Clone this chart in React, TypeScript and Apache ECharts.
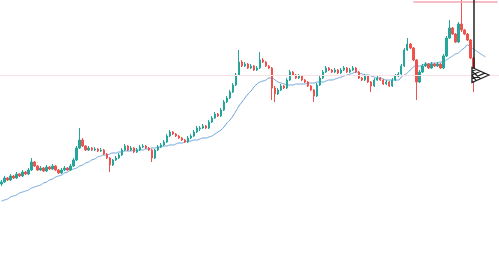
import React, { useEffect, useRef } from "react";
import * as echarts from "echarts";

// [open, close, low, high]
const ohlc: number[][] = [
  [82, 84, 80, 86], [84, 88, 83, 90], [88, 86, 85, 89], [86, 90, 85, 92], [90, 88, 87, 91],
  [88, 92, 87, 94], [92, 90, 89, 93], [90, 94, 89, 96], [94, 92, 91, 95], [92, 96, 91, 98],
  [96, 104, 95, 108], [104, 100, 99, 105], [100, 96, 95, 101], [96, 98, 95, 100], [98, 95, 94, 99],
  [95, 99, 94, 101], [99, 97, 96, 100], [97, 100, 96, 102], [100, 96, 95, 101], [96, 93, 92, 97],
  [93, 96, 92, 98], [96, 98, 95, 100], [98, 96, 95, 99], [96, 100, 95, 102], [100, 106, 99, 108],
  [106, 118, 105, 120], [118, 126, 117, 138], [126, 120, 119, 128], [120, 116, 115, 121], [116, 118, 115, 120],
  [118, 116, 115, 119], [116, 117, 115, 119], [117, 115, 114, 118], [115, 116, 114, 118], [116, 112, 111, 117],
  [112, 108, 107, 113], [108, 101, 94, 109], [101, 106, 100, 107], [106, 108, 105, 110], [108, 111, 107, 113],
  [111, 116, 110, 118], [116, 120, 115, 122], [120, 116, 115, 121], [116, 118, 115, 120], [118, 114, 113, 119],
  [114, 116, 113, 118], [116, 119, 115, 121], [119, 120, 118, 122], [120, 118, 117, 121], [118, 116, 115, 119],
  [116, 108, 104, 117], [108, 116, 107, 117], [116, 119, 115, 121], [119, 121, 118, 123], [121, 124, 120, 126],
  [124, 130, 123, 132], [130, 134, 129, 136], [134, 132, 131, 135], [132, 130, 129, 133], [130, 128, 127, 131],
  [128, 126, 125, 129], [126, 124, 123, 127], [124, 128, 123, 130], [128, 130, 127, 132], [130, 134, 129, 136],
  [134, 138, 133, 140], [137, 138, 135, 140], [138, 140, 137, 142], [140, 138, 137, 141], [138, 144, 137, 146],
  [144, 148, 143, 150], [148, 152, 147, 154], [152, 150, 149, 153], [150, 156, 149, 158], [156, 164, 155, 166],
  [164, 168, 163, 170], [168, 174, 167, 176], [174, 181, 173, 183], [181, 191, 180, 193], [191, 204, 190, 216],
  [204, 200, 199, 206], [200, 202, 199, 204], [202, 198, 197, 203], [198, 200, 197, 202], [200, 196, 195, 201],
  [196, 198, 195, 200], [198, 206, 197, 214], [206, 204, 203, 208], [204, 200, 199, 205], [200, 198, 197, 201],
  [198, 178, 166, 199], [178, 172, 164, 180], [172, 176, 171, 178], [176, 180, 175, 182], [180, 178, 177, 181],
  [178, 186, 177, 188], [186, 194, 185, 196], [194, 191, 190, 195], [191, 188, 187, 192], [188, 190, 187, 192],
  [190, 186, 185, 191], [186, 184, 183, 187], [184, 180, 179, 185], [180, 176, 175, 181], [176, 170, 164, 177],
  [170, 181, 169, 183], [181, 188, 180, 190], [188, 194, 187, 196], [194, 198, 193, 200], [198, 196, 195, 199],
  [196, 194, 193, 197], [194, 196, 193, 198], [196, 193, 192, 197], [193, 196, 192, 198], [196, 198, 195, 200],
  [198, 194, 193, 199], [194, 196, 193, 198], [196, 198, 195, 200], [198, 194, 193, 199], [194, 188, 187, 195],
  [188, 186, 185, 189], [186, 190, 185, 192], [190, 184, 183, 191], [184, 180, 174, 185], [180, 186, 179, 188],
  [186, 188, 185, 190], [188, 186, 185, 189], [186, 182, 181, 187], [182, 184, 181, 186], [184, 180, 179, 185],
  [180, 186, 179, 188], [186, 190, 185, 192], [190, 192, 189, 194], [192, 200, 191, 202], [200, 216, 199, 218],
  [216, 222, 215, 228], [222, 218, 217, 223], [218, 206, 205, 219], [206, 184, 166, 207], [184, 194, 183, 196],
  [194, 200, 193, 202], [200, 202, 199, 204], [202, 198, 197, 203], [198, 202, 197, 204], [202, 200, 199, 203],
  [200, 202, 199, 204], [202, 198, 197, 203], [198, 210, 197, 212], [210, 228, 209, 230], [228, 238, 227, 246],
  [238, 232, 231, 239], [232, 224, 223, 233], [224, 242, 223, 244], [242, 236, 234, 266], [236, 232, 231, 237],
  [232, 226, 225, 233], [226, 208, 207, 227], [208, 184, 174, 209],
];

const maValues: number[] = [
  65, 66, 67, 69, 70, 71, 73, 74, 75, 76, 78, 79, 80, 81, 83, 84, 86, 87, 89, 90,
  91, 93, 94, 96, 97, 98, 100, 101, 103, 104, 106, 107, 109, 110, 111, 111, 112, 113, 113, 114,
  114, 115, 115, 115, 116, 116, 116, 116, 117, 117, 118, 118, 119, 119, 120, 120, 121, 121, 122, 123,
  123, 124, 125, 125, 126, 126, 127, 128, 128, 129, 130, 132, 134, 136, 139, 143, 146, 150, 155, 160,
  164, 168, 172, 175, 179, 182, 184, 185, 186, 188, 188, 186, 184, 183, 182, 181, 181, 181, 182, 182,
  182, 182, 183, 183, 183, 184, 184, 184, 185, 186, 186, 187, 188, 189, 190, 191, 192, 193, 194, 193,
  192, 191, 191, 190, 189, 188, 188, 187, 186, 186, 186, 186, 186, 189, 191, 193, 196, 199, 200, 200,
  201, 202, 202, 203, 203, 203, 204, 204, 206, 208, 210, 212, 213, 216, 218, 221, 219, 217, 215, 213,
  211, 209,
];

const categoryCount = 166;
const categories: string[] = Array.from({ length: categoryCount }, (_, i) => String(i + 1));

const levelValue = 191;
const topLevelValue = 264;
const topLevelStart = 137;
const lastIndex = ohlc.length - 1;
const verticalFrom = 196;
const verticalTo = 266;

export default function App() {
  const ref = useRef<HTMLDivElement>(null);
  useEffect(() => {
    if (!ref.current) return;
    const chart = echarts.init(ref.current, undefined, { renderer: "svg" });
    chart.setOption({
      animation: false,
      backgroundColor: "#ffffff",
      grid: { left: 0, right: 0, top: 0, bottom: 0 },
      xAxis: {
        type: "category",
        data: categories,
        show: false,
        boundaryGap: true,
      },
      yAxis: {
        type: "value",
        min: 0,
        max: 266,
        show: false,
        splitLine: { show: false },
      },
      series: [
        {
          type: "candlestick",
          data: ohlc,
          barWidth: "62%",
          itemStyle: {
            color: "#26a69a",
            color0: "#ef5350",
            borderColor: "#26a69a",
            borderColor0: "#ef5350",
            borderWidth: 1,
          },
          markLine: {
            silent: true,
            symbol: "none",
            label: { show: false },
            data: [
              { yAxis: levelValue, lineStyle: { color: "#f7e1e3", width: 1, type: "solid" } },
              [
                { coord: [topLevelStart, topLevelValue], lineStyle: { color: "#f2a9b0", width: 1.5, type: "solid" } },
                { coord: [categoryCount - 1, topLevelValue] },
              ],
              [
                { coord: [lastIndex, verticalFrom], lineStyle: { color: "#222222", width: 1.5, type: "solid" } },
                { coord: [lastIndex, verticalTo] },
              ],
            ],
          },
          markPoint: {
            silent: true,
            label: { show: false },
            data: [
              {
                coord: [lastIndex, levelValue],
                symbol:
                  "path://M0,0 L16,7 L0,14 Z M0,3.5 L4,1.75 M0,7 L8,3.5 M0,10.5 L12,5.25 M0,3.5 L8,10.5 M0,7 L4,12.25",
                symbolSize: [17, 15],
                symbolOffset: [7, 0],
                itemStyle: { color: "#ffffff", borderColor: "#222222", borderWidth: 1.2 },
              },
            ],
          },
        },
        {
          type: "line",
          data: maValues,
          showSymbol: false,
          smooth: true,
          lineStyle: { color: "#6aa3da", width: 1 },
          z: 1,
        },
      ],
    });
    return () => chart.dispose();
  }, []);
  return (
    <div
      ref={ref}
      style={{ position: "fixed", left: 0, top: 0, width: 499, height: 266 }}
    />
  );
}
